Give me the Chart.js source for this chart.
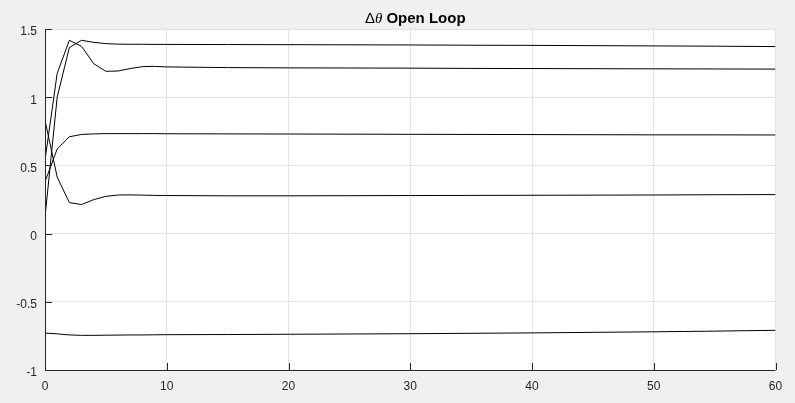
<!DOCTYPE html>
<html>
<head>
<meta charset="utf-8">
<script src="https://cdn.jsdelivr.net/npm/chart.js@4"></script>
<style>
  html, body { margin: 0; padding: 0; background: #f0f0f0; }
  #wrap { width: 795px; height: 403px; position: relative; }
</style>
</head>
<body>
<div id="wrap"><canvas id="c" width="795" height="403"></canvas></div>
<script>
const titleParts = ["\u0394", "\u03b8", " Open Loop"];
const time = [0,1,2,3,4,5,6,7,8,9,10,15,20,25,30,35,40,45,50,55,60];
const series1 = [0.12,1.00,1.364,1.417,1.402,1.393,1.389,1.388,1.388,1.387,1.387,1.386,1.385,1.384,1.383,1.381,1.380,1.378,1.376,1.374,1.371];
const series2 = [0.54,1.175,1.417,1.373,1.246,1.19,1.192,1.21,1.224,1.226,1.222,1.217,1.215,1.214,1.213,1.211,1.210,1.209,1.208,1.207,1.206];
const series3 = [0.38,0.62,0.71,0.727,0.731,0.733,0.733,0.733,0.733,0.733,0.732,0.731,0.730,0.729,0.728,0.727,0.726,0.725,0.724,0.724,0.723];
const series4 = [0.83,0.415,0.227,0.213,0.249,0.273,0.283,0.284,0.282,0.280,0.279,0.277,0.277,0.278,0.279,0.280,0.281,0.282,0.283,0.285,0.286];
const series5 = [-0.729,-0.735,-0.743,-0.746,-0.746,-0.745,-0.744,-0.743,-0.743,-0.742,-0.741,-0.740,-0.738,-0.736,-0.734,-0.731,-0.728,-0.724,-0.720,-0.715,-0.709];
const xTicks = [0,10,20,30,40,50,60];
const yTicks = [-1,-0.5,0,0.5,1,1.5];

const allSeries = [series1, series2, series3, series4, series5];
const datasets = allSeries.map(s => ({
  data: s.map((v, i) => ({ x: time[i], y: v })),
  borderColor: '#000000',
  borderWidth: 1,
  pointRadius: 0,
  tension: 0,
  fill: false
}));

const AXIS = '#262626';
const FONT = { family: 'Liberation Sans, Arial, sans-serif', size: 12 };

const bgPlugin = {
  id: 'bg',
  beforeDraw(chart) {
    const { ctx, chartArea: a } = chart;
    ctx.save();
    ctx.fillStyle = '#f0f0f0';
    ctx.fillRect(0, 0, chart.width, chart.height);
    ctx.fillStyle = '#ffffff';
    ctx.fillRect(a.left, a.top, a.right - a.left, a.bottom - a.top);
    ctx.restore();
  }
};

const tickPlugin = {
  id: 'inticks',
  afterDatasetsDraw(chart) {
    const { ctx, chartArea: a, scales } = chart;
    ctx.save();
    ctx.strokeStyle = AXIS;
    ctx.lineWidth = 1;
    ctx.beginPath();
    xTicks.forEach(v => {
      const px = Math.round(scales.x.getPixelForValue(v)) + 0.5;
      ctx.moveTo(px, a.bottom);
      ctx.lineTo(px, a.bottom - 7);
    });
    yTicks.forEach(v => {
      const py = Math.round(scales.y.getPixelForValue(v)) + 0.5;
      ctx.moveTo(a.left, py);
      ctx.lineTo(a.left + 7, py);
    });
    ctx.stroke();
    ctx.beginPath();
    const lx = Math.round(a.left) + 0.5;
    const by = Math.round(a.bottom) + 0.5;
    ctx.moveTo(lx, a.top);
    ctx.lineTo(lx, by);
    ctx.lineTo(a.right, by);
    ctx.stroke();
    // title
    const cx = (a.left + a.right) / 2 + 5;
    const fonts = [
      '15px Liberation Sans, Arial, sans-serif',
      'italic 15px Liberation Serif, Times New Roman, serif',
      'bold 15px Liberation Sans, Arial, sans-serif'
    ];
    const widths = titleParts.map((t, i) => { ctx.font = fonts[i]; return ctx.measureText(t).width; });
    const total = widths.reduce((p, c) => p + c, 0);
    let x = cx - total / 2;
    ctx.fillStyle = '#000000';
    ctx.textBaseline = 'alphabetic';
    titleParts.forEach((t, i) => {
      ctx.font = fonts[i];
      ctx.fillText(t, x, 23);
      x += widths[i];
    });
    ctx.restore();
  }
};

new Chart(document.getElementById('c'), {
  type: 'line',
  data: { datasets },
  options: {
    responsive: false,
    animation: false,
    events: [],
    layout: { padding: { top: 29, right: 19.5, left: 0, bottom: 0 } },
    plugins: { legend: { display: false }, tooltip: { enabled: false }, title: { display: false } },
    scales: {
      x: {
        type: 'linear',
        min: 0, max: 60,
        afterBuildTicks: s => { s.ticks = xTicks.map(v => ({ value: v })); },
        afterFit: s => { s.height = 33; },
        ticks: { color: AXIS, font: FONT, padding: 9, maxRotation: 0 },
        grid: { color: '#e3e3e3', drawTicks: false, lineWidth: 1 },
        border: { display: false }
      },
      y: {
        type: 'linear',
        min: -1, max: 1.5,
        afterBuildTicks: s => { s.ticks = yTicks.map(v => ({ value: v })); },
        afterFit: s => { s.width = 45; },
        ticks: { color: AXIS, font: FONT, padding: 8, labelOffset: 3, callback: v => String(v) },
        grid: { color: '#e3e3e3', drawTicks: false, lineWidth: 1 },
        border: { display: false }
      }
    }
  },
  plugins: [bgPlugin, tickPlugin]
});
</script>
</body>
</html>
